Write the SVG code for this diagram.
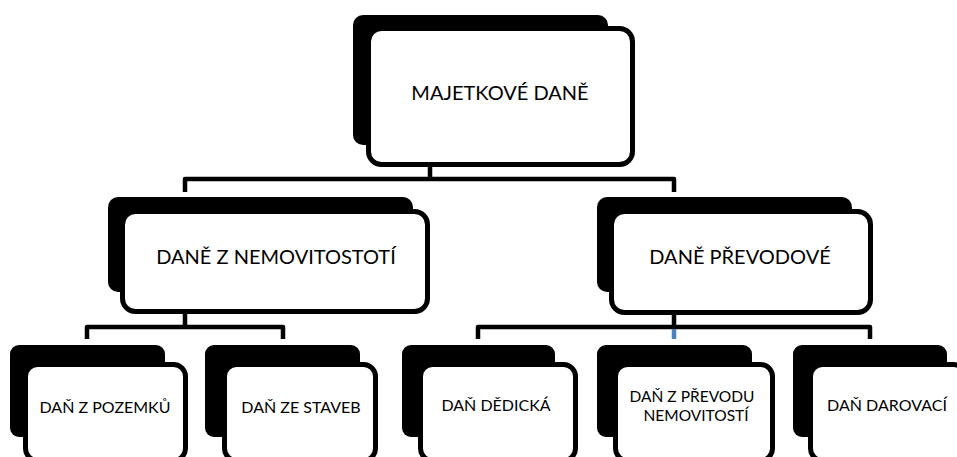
<svg xmlns="http://www.w3.org/2000/svg" width="957" height="457" viewBox="0 0 957 457">
<style>
.shadow{fill:#000}
.box{fill:#fff;stroke:#000;stroke-width:5}
.conn{fill:none;stroke:#000;stroke-width:4.5;stroke-linejoin:round}
.blue{fill:none;stroke:#4F81BD;stroke-width:4.5}
text{font-family:Lato,"Liberation Sans",sans-serif;fill:#000;text-anchor:middle}
.t1{font-size:20px}
.t2{font-size:16px}
.t3{font-size:15.5px}
</style>
<rect width="957" height="457" fill="#fff"/>
<g id="connectors">
<path class="conn" d="M430,167 V179 M185,192 V179 H674 V192"/>
<path class="conn" d="M185,314 V327 M87,339 V327 H283 V339"/>
<path class="conn" d="M674,315 V327 M478,339 V327 H870 V339"/>
<path class="blue" d="M674,329 V339"/>
</g>
<g id="n-majetkove">
<rect class="shadow" x="353" y="15" width="255" height="130" rx="10"/>
<rect class="box" x="368.5" y="28.5" width="264" height="136" rx="13"/>
<text class="t1" x="500" y="100">MAJETKOVÉ DANĚ</text>
</g>
<g id="n-nemovitosti">
<rect class="shadow" x="108" y="197" width="305" height="95" rx="10"/>
<rect class="box" x="122.5" y="211.5" width="305" height="100" rx="13"/>
<text class="t1" x="276" y="264">DANĚ Z NEMOVITOSTOTÍ</text>
</g>
<g id="n-prevodove">
<rect class="shadow" x="597" y="197" width="255" height="95" rx="10"/>
<rect class="box" x="611.5" y="211.5" width="259" height="101" rx="13"/>
<text class="t1" x="740" y="264">DANĚ PŘEVODOVÉ</text>
</g>
<g id="n-pozemku">
<rect class="shadow" x="10" y="345" width="155" height="92" rx="9"/>
<rect class="box" x="25.5" y="364.5" width="160" height="96" rx="12"/>
<text class="t2" x="105" y="413">DAŇ Z POZEMKŮ</text>
</g>
<g id="n-staveb">
<rect class="shadow" x="205" y="345" width="155" height="92" rx="9"/>
<rect class="box" x="224.5" y="364.5" width="151" height="96" rx="12"/>
<text class="t2" x="301" y="413">DAŇ ZE STAVEB</text>
</g>
<g id="n-dedicka">
<rect class="shadow" x="402" y="345" width="153" height="92" rx="9"/>
<rect class="box" x="420.5" y="364.5" width="155" height="96" rx="12"/>
<text class="t2" x="496" y="411">DAŇ DĚDICKÁ</text>
</g>
<g id="n-prevod-nem">
<rect class="shadow" x="597" y="345" width="155" height="92" rx="9"/>
<rect class="box" x="615.5" y="364.5" width="157" height="96" rx="12"/>
<text class="t3" x="692" y="402">DAŇ Z PŘEVODU</text>
<text class="t3" x="696" y="421">NEMOVITOSTÍ</text>
</g>
<g id="n-darovaci">
<rect class="shadow" x="793" y="345" width="154" height="92" rx="9"/>
<rect class="box" x="810.5" y="364.5" width="155" height="96" rx="12"/>
<text class="t2" x="887" y="411">DAŇ DAROVACÍ</text>
</g>
</svg>
